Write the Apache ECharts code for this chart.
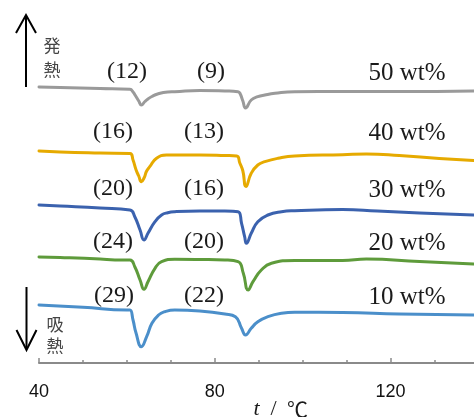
<!DOCTYPE html>
<html>
<head>
<meta charset="utf-8">
<script src="https://cdn.jsdelivr.net/npm/echarts@6/dist/echarts.min.js"></script>
<style>
html,body{margin:0;padding:0;background:#fff;}
#c{width:474px;height:417px;}
</style>
</head>
<body>
<div id="c"></div>
<script>
// DSC curves: [temperature (°C), heat flow (arbitrary, offset stacked)]
const curve50 = [[40,276],[44.8,275.5],[53.9,274.5],[60.7,273.7],[61.4,271],[62.0,267],[62.7,262],[63.3,258],[64.1,261.5],[64.8,264],[65.7,266.5],[67.0,269],[69.3,271],[70.9,271.3],[76.6,272.5],[82.3,272],[85.3,271.3],[85.7,270],[86.4,262],[87.0,255],[88.3,263],[89.8,266.3],[91.4,268],[93.7,269.7],[98.2,271.3],[109.1,271.5],[122.0,271.5],[138.9,272]];
const curve40 = [[40,212],[44.8,211],[53.9,210],[60.7,209.5],[61.4,203],[62.1,193],[62.7,187],[63.3,181.3],[63.9,185],[64.5,192],[65.2,196.3],[66.75,204.7],[69.0,208],[76.6,208],[82.3,207.5],[85.0,207],[85.7,200],[86.4,192],[87.1,176.5],[88.3,189.7],[89.8,198],[91.4,201.3],[94.4,204.7],[98.2,207],[109.1,208.3],[114.5,209],[122.0,207.5],[131.1,204.5],[138.9,202.5]];
const curve30 = [[40,158],[44.8,157],[53.9,155],[60.7,153],[61.8,146.3],[63.0,133],[63.9,123],[64.8,129.7],[66.4,141.3],[67.9,148],[69.3,150.3],[70.9,151.3],[76.6,152],[82.3,152],[85.3,151.3],[86.1,139.7],[86.8,126.3],[87.2,119.7],[88.3,129.7],[89.8,141.3],[92.1,148],[95.2,151.3],[98.2,152.3],[109.1,153.5],[117.0,152],[126.6,150],[138.9,148]];
const curve20 = [[40,106],[44.8,105.5],[53.9,104],[57.3,103],[60.7,103],[61.8,96.3],[63.0,83],[63.9,73.7],[64.8,81.3],[66.4,94.7],[67.9,101.3],[70.9,103.7],[76.6,103.5],[82.3,103],[85.3,101.3],[86.5,89.7],[87.6,73],[88.7,81.3],[90.6,93],[92.9,99.7],[98.2,102.5],[109.1,102.5],[114.5,104],[126.6,101.5],[138.9,99]];
const curve10 = [[40,58],[50,55.7],[60,53],[60.7,53],[61.4,43],[62.1,29.7],[63.3,16.3],[64.5,26.3],[65.7,39.7],[67.2,48],[68.6,51.3],[70.9,53],[76.6,52],[82.3,49],[84.7,46.3],[86.1,34.7],[87.0,28],[88.3,34.7],[89.8,41.3],[92.1,46.3],[95.2,49.7],[98.2,50.7],[109.1,50.5],[122.0,49],[138.9,48]];

const concentrations = ['50 wt%','40 wt%','30 wt%','20 wt%','10 wt%'];
const enthalpyPeak1 = ['(12)','(16)','(20)','(24)','(29)'];
const enthalpyPeak2 = ['(9)','(13)','(16)','(20)','(22)'];
const majorTicks = [40,80,120];
const minorTicks = [50,60,70,90,100,110,130];

const curves = [curve50, curve40, curve30, curve20, curve10];
const colors = ['#9a9a9a','#e6aa00','#3b62ae','#5e9b3b','#4b8fca'];

const chart = echarts.init(document.getElementById('c'), null, {renderer:'canvas'});

const rowY = [72,132,189,242,296];
const p1X = [127,113,113,113,114];
const p2X = [211,204,204,204,204];
const serif = '"Liberation Serif", "Times New Roman", serif';
const txtColor = '#1a1a1a';

const graphics = [];
for (let i = 0; i < 5; i++) {
  graphics.push({type:'text', x:p1X[i], y:rowY[i], style:{text:enthalpyPeak1[i], font:'24px '+serif, fill:txtColor, align:'center', verticalAlign:'middle'}});
  graphics.push({type:'text', x:p2X[i], y:rowY[i], style:{text:enthalpyPeak2[i], font:'24px '+serif, fill:txtColor, align:'center', verticalAlign:'middle'}});
  graphics.push({type:'text', x:407, y:rowY[i]+1, style:{text:concentrations[i], font:'25px '+serif, fill:txtColor, align:'center', verticalAlign:'middle'}});
}
// arrows
const arrowStyle = {stroke:'#000', lineWidth:2, fill:null};
graphics.push({type:'line', shape:{x1:26,y1:87,x2:26,y2:16}, style:arrowStyle});
graphics.push({type:'polyline', shape:{points:[[16,33],[26,15],[36,33]]}, style:arrowStyle});
graphics.push({type:'line', shape:{x1:26.5,y1:287,x2:26.5,y2:349}, style:arrowStyle});
graphics.push({type:'polyline', shape:{points:[[16.5,330],[26.5,350],[36.5,330]]}, style:arrowStyle});
const cjk = '"Noto Sans CJK JP", sans-serif';
graphics.push({type:'text', x:52, y:46, style:{text:'発', font:'17px '+cjk, fill:'#444', align:'center', verticalAlign:'middle'}});
graphics.push({type:'text', x:52, y:70, style:{text:'熱', font:'17px '+cjk, fill:'#444', align:'center', verticalAlign:'middle'}});
graphics.push({type:'text', x:55, y:325, style:{text:'吸', font:'17px '+cjk, fill:'#444', align:'center', verticalAlign:'middle'}});
graphics.push({type:'text', x:55, y:346, style:{text:'熱', font:'17px '+cjk, fill:'#444', align:'center', verticalAlign:'middle'}});
// axis title  t / ℃
graphics.push({type:'text', x:256.5, y:409, style:{text:'t', font:'italic 22px '+serif, fill:txtColor, align:'center', verticalAlign:'middle'}});
graphics.push({type:'text', x:273.5, y:409, style:{text:'/', font:'22px '+serif, fill:txtColor, align:'center', verticalAlign:'middle'}});
graphics.push({type:'text', x:297.5, y:409, style:{text:'℃', font:'21px '+cjk, fill:txtColor, align:'center', verticalAlign:'middle'}});

const axisGray = '#8a8a8a';
const option = {
  animation:false,
  backgroundColor:'#fff',
  grid:{left:39, right:0, top:0, bottom:54, containLabel:false},
  xAxis:[
    {type:'value', min:40, max:139, position:'bottom', offset:0,
     axisLine:{show:true, lineStyle:{color:axisGray, width:2}},
     axisTick:{show:true, inside:true, length:3, customValues:minorTicks, lineStyle:{color:axisGray, width:1.5}},
     axisLabel:{show:false}, splitLine:{show:false}},
    {type:'value', min:40, max:139, position:'bottom', offset:0,
     axisLine:{show:false},
     axisTick:{show:true, inside:true, length:5, customValues:majorTicks, lineStyle:{color:axisGray, width:1.5}},
     axisLabel:{show:true, customValues:majorTicks, margin:29, verticalAlign:'middle', fontSize:18, color:'#111', fontFamily:'"Liberation Sans", Arial, sans-serif'},
     splitLine:{show:false}}
  ],
  yAxis:{type:'value', min:0, max:363, show:false},
  series: curves.map((d,i)=>({
    type:'line', data:d, xAxisIndex:0, showSymbol:false, symbol:'none',
    smooth:0.5,
    lineStyle:{color:colors[i], width:3, join:'round', cap:'round'}, clip:true
  })),
  graphic: graphics
};
chart.setOption(option);
</script>
</body>
</html>
